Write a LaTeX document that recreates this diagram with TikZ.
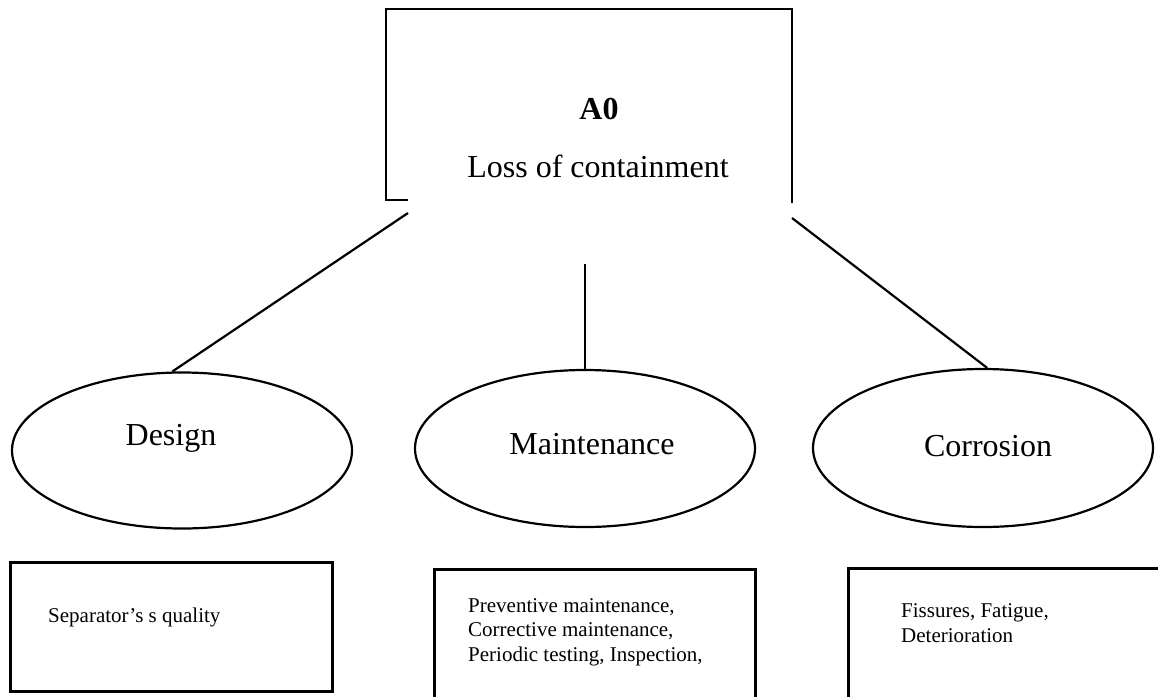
\documentclass[tikz,border=0pt]{standalone}
\usepackage{fontspec}
\setmainfont{Liberation Serif}
\usetikzlibrary{shapes.geometric,calc}
\begin{document}
\begin{tikzpicture}[x=1pt,y=-1pt,
  frame/.style={line width=2.4pt},
  cause/.style={draw,ellipse,line width=2.2pt,minimum width=340pt,minimum height=156pt,inner sep=0pt},
  link/.style={line width=2.2pt},
  bigtext/.style={font=\fontsize{32}{38}\selectfont,inner sep=0pt,anchor=base},
  smalltext/.style={font=\fontsize{21}{24.5}\selectfont,inner sep=0pt,anchor=base west,align=left},
  detail/.style={draw,line width=2.6pt,anchor=north west,inner sep=0pt}]
\clip (0,0) rectangle (1158,696);
\fill[white] (0,0) rectangle (1158,696);

% top event and its open frame
\draw[frame] (408,200) -- (386,200) -- (386,9) -- (792,9) -- (792,203);
\node[bigtext,font=\fontsize{32}{38}\selectfont\bfseries] (a0) at (599,119) {A0};
\node[bigtext] (top) at (598,177) {Loss of containment};

% causes
\node[cause] (design) at (182,450.5) {};
\node[cause,minimum height=157pt] (maint) at (585,448.5) {};
\node[cause,minimum height=158pt] (corr) at (983,448) {};
\node[bigtext] (designtxt) at (171,445) {Design};
\node[bigtext] (mainttxt) at (592,454) {Maintenance};
\node[bigtext] (corrtxt) at (988,456) {Corrosion};

% links from the top event
\coordinate (l0) at (408,213);
\coordinate (m0) at (585,264);
\coordinate (r0) at (792,218);
\draw[link] (l0) -- (design.97);
\draw[link] (m0) -- (maint.north);
\draw[link] (r0) -- (corr.87);

% detail boxes (text nodes are placed by the baseline of their last line)
\node[detail,minimum width=322pt,minimum height=129pt] (b1) at (9,561) {};
\node[detail,minimum width=321pt,minimum height=160pt] (b2) at (433,568) {};
\node[detail,minimum width=340pt,minimum height=160pt] (b3) at (847,567) {};
\node[smalltext] (t1) at (48,622) {Separator’s s quality};
\node[smalltext] (t2) at (468,661) {Preventive maintenance,\\Corrective maintenance,\\Periodic testing, Inspection,};
\node[smalltext] (t3) at (901,642) {Fissures, Fatigue,\\Deterioration};
\end{tikzpicture}
\end{document}
